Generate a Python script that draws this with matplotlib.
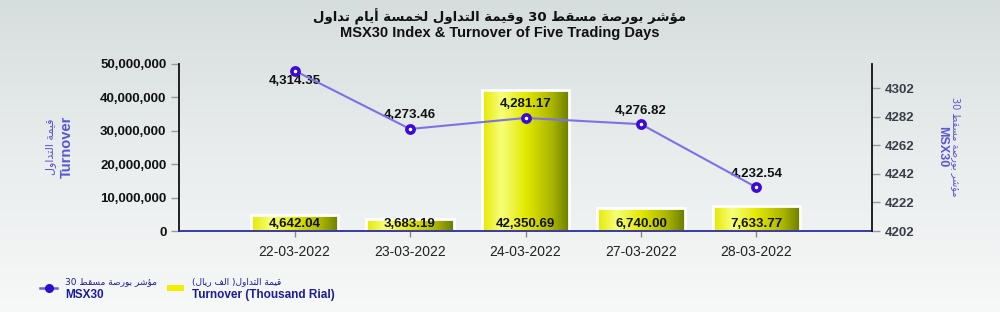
import re
import numpy as np
import matplotlib
matplotlib.use("Agg")
import matplotlib.pyplot as plt
from matplotlib.colors import LinearSegmentedColormap
from matplotlib.lines import Line2D
from matplotlib.patches import Rectangle
from matplotlib.ticker import FuncFormatter, FixedLocator

# ---------------- data ----------------
dates = ['22-03-2022', '23-03-2022', '24-03-2022', '27-03-2022', '28-03-2022']
turnover_thousand = [4642.04, 3683.19, 42350.69, 6740.00, 7633.77]
index_values = [4314.35, 4273.46, 4281.17, 4276.82, 4232.54]
left_ticks = [0, 10000000, 20000000, 30000000, 40000000, 50000000]
right_ticks = [4202, 4222, 4242, 4262, 4282, 4302]

title_ar = 'مؤشر بورصة مسقط 30 وقيمة التداول لخمسة أيام تداول'
title_en = 'MSX30 Index & Turnover of Five Trading Days'
left_label_ar = 'قيمة التداول'
left_label_en = 'Turnover'
right_label_ar = 'مؤشر بورصة مسقط 30'
right_label_en = 'MSX30'
legend_line_ar = 'مؤشر بورصة مسقط 30'
legend_line_en = 'MSX30'
legend_bar_ar = 'قيمة التداول( الف ريال)'
legend_bar_en = 'Turnover (Thousand Rial)'

# ---------------- minimal Arabic shaping (visual order) ----------------
FORMS = {
    'ا': (0xFE8D, 0xFE8E, None, None),
    'أ': (0xFE83, 0xFE84, None, None),
    'ب': (0xFE8F, 0xFE90, 0xFE91, 0xFE92),
    'ة': (0xFE93, 0xFE94, None, None),
    'ت': (0xFE95, 0xFE96, 0xFE97, 0xFE98),
    'خ': (0xFEA5, 0xFEA6, 0xFEA7, 0xFEA8),
    'د': (0xFEA9, 0xFEAA, None, None),
    'ر': (0xFEAD, 0xFEAE, None, None),
    'س': (0xFEB1, 0xFEB2, 0xFEB3, 0xFEB4),
    'ش': (0xFEB5, 0xFEB6, 0xFEB7, 0xFEB8),
    'ص': (0xFEB9, 0xFEBA, 0xFEBB, 0xFEBC),
    'ط': (0xFEC1, 0xFEC2, 0xFEC3, 0xFEC4),
    'ف': (0xFED1, 0xFED2, 0xFED3, 0xFED4),
    'ق': (0xFED5, 0xFED6, 0xFED7, 0xFED8),
    'ل': (0xFEDD, 0xFEDE, 0xFEDF, 0xFEE0),
    'م': (0xFEE1, 0xFEE2, 0xFEE3, 0xFEE4),
    'و': (0xFEED, 0xFEEE, None, None),
    'ؤ': (0xFE85, 0xFE86, None, None),
    'ي': (0xFEF1, 0xFEF2, 0xFEF3, 0xFEF4),
}


def shape(s):
    def dual(c):
        return c in FORMS and FORMS[c][2] is not None
    out = []
    n = len(s)
    for i, c in enumerate(s):
        if c not in FORMS:
            out.append(c)
            continue
        prev = s[i - 1] if i > 0 else ''
        nxt = s[i + 1] if i < n - 1 else ''
        jp = dual(prev)
        jn = dual(c) and nxt in FORMS
        iso, fin, ini, med = FORMS[c]
        if jp and jn:
            g = med
        elif jp:
            g = fin
        elif jn:
            g = ini
        else:
            g = iso
        out.append(chr(g))
    vis = ''.join(out)[::-1]
    vis = re.sub(r'[0-9]+', lambda m: m.group(0)[::-1], vis)
    vis = vis.translate(str.maketrans('()', ')('))
    return vis


AR = ['DejaVu Sans']
LAT = ['Liberation Sans', 'DejaVu Sans']
plt.rcParams['font.family'] = LAT

# ---------------- figure ----------------
fig = plt.figure(figsize=(10, 3.12), dpi=100)

# background gradient
bg = fig.add_axes([0, 0, 1, 1], zorder=-10)
bg.axis('off')
grad = np.linspace(0, 1, 256).reshape(-1, 1)
bg_cmap = LinearSegmentedColormap.from_list('bg', ['#d6dedd', '#e9eded', '#f7f8f8'])
bg.imshow(grad, aspect='auto', cmap=bg_cmap, extent=[0, 1, 0, 1], origin='upper')
bg.set_xlim(0, 1)
bg.set_ylim(0, 1)

ax = fig.add_axes([0.179, 0.2596, 0.693, 0.5354])
ax.patch.set_alpha(0)
x = np.arange(len(dates))
bar_heights = [v * 1000 for v in turnover_thousand]

bar_cmap = LinearSegmentedColormap.from_list(
    'bar', [(0, '#e4e800'), (0.22, '#f7ff7a'), (0.5, '#e2e800'), (0.8, '#aab400'), (1.0, '#6a7c00')])
bars = ax.bar(x, bar_heights, width=0.76, facecolor='none', edgecolor='white', linewidth=2, zorder=3)
hgrad = np.linspace(0, 1, 256).reshape(1, -1)
for b in bars:
    x0, y0 = b.get_x(), b.get_y()
    w, h = b.get_width(), b.get_height()
    im = ax.imshow(hgrad, aspect='auto', cmap=bar_cmap, extent=[x0, x0 + w, y0, y0 + h],
                   origin='lower', zorder=2)
    im.set_clip_path(b)

for xi, v in zip(x, turnover_thousand):
    ax.annotate(f'{v:,.2f}', xy=(xi, 0), xytext=(0, 1), textcoords='offset points',
                ha='center', va='bottom', fontsize=9.5, fontweight='bold', color='#111111', zorder=5)

ax.set_xlim(-1, 5)
ax.set_ylim(0, 50000000)
ax.yaxis.set_major_locator(FixedLocator(left_ticks))
ax.yaxis.set_major_formatter(FuncFormatter(lambda v, p: f'{int(v):,}'))
ax.set_xticks(x)
ax.set_xticklabels(dates)
ax.tick_params(axis='y', direction='out', length=6, width=1, color='#999999', pad=3,
               labelsize=9.5, labelcolor='#111111')
for t in ax.get_yticklabels():
    t.set_fontweight('bold')
ax.tick_params(axis='x', direction='out', length=4, width=1, color='#888888', pad=6,
               labelsize=10, labelcolor='#222222')
ax.spines['top'].set_visible(False)
ax.spines['right'].set_visible(False)
ax.spines['left'].set_color('#111111')
ax.spines['left'].set_linewidth(1.3)
ax.spines['bottom'].set_color('#2a2aa0')
ax.spines['bottom'].set_linewidth(1.3)
ax.spines['bottom'].set_zorder(6)

ax2 = ax.twinx()
ax2.set_ylim(4202, 4319)
ax2.yaxis.set_major_locator(FixedLocator(right_ticks))
ax2.plot(x, index_values, color='#7d70ea', linewidth=1.5, marker='o', markersize=5.2,
         markerfacecolor='white', markeredgecolor='#3c0ad8', markeredgewidth=2.6, zorder=4)
for i, (xi, v) in enumerate(zip(x, index_values)):
    if i == 0:
        ax2.annotate(f'{v:,.2f}', xy=(xi, v), xytext=(0, -3.5), textcoords='offset points',
                     ha='center', va='top', fontsize=9.5, fontweight='bold', color='#111111')
    else:
        ax2.annotate(f'{v:,.2f}', xy=(xi, v), xytext=(0, 5.5), textcoords='offset points',
                     ha='center', va='bottom', fontsize=9.5, fontweight='bold', color='#111111')
ax2.tick_params(axis='y', direction='out', length=6, width=1, color='#999999', pad=3,
                labelsize=9.5, labelcolor='#3a3f48')
for t in ax2.get_yticklabels():
    t.set_fontweight('bold')
for s in ['top', 'left', 'bottom']:
    ax2.spines[s].set_visible(False)
ax2.spines['right'].set_color('#111111')
ax2.spines['right'].set_linewidth(1.3)

# titles
fig.text(0.5, 0.945, shape(title_ar), ha='center', va='center', fontsize=9.5,
         fontweight='bold', family=AR, color='#111111')
fig.text(0.5, 0.893, title_en, ha='center', va='center', fontsize=10.5,
         fontweight='bold', color='#111111')

# axis labels
label_blue = '#5a55d2'
fig.text(0.051, 0.53, shape(left_label_ar), rotation=90, ha='center', va='center',
         fontsize=8, family=AR, color=label_blue)
fig.text(0.067, 0.53, left_label_en, rotation=90, ha='center', va='center',
         fontsize=10.5, fontweight='bold', color=label_blue)
fig.text(0.956, 0.53, shape(right_label_ar), rotation=270, ha='center', va='center',
         fontsize=7, family=AR, color=label_blue)
fig.text(0.942, 0.53, right_label_en, rotation=270, ha='center', va='center',
         fontsize=9, fontweight='bold', color=label_blue)

# legend
leg_blue = '#1c1c9a'
fig.add_artist(Line2D([0.040, 0.057], [0.077, 0.077], color='#6a5ce0', linewidth=1.8,
                      marker=None, transform=fig.transFigure))
fig.add_artist(Line2D([0.0485], [0.077], marker='o', markersize=5.5, markerfacecolor='#2a10c8',
                      markeredgecolor='#2a10c8', transform=fig.transFigure))
fig.text(0.065, 0.098, shape(legend_line_ar), ha='left', va='center', fontsize=6.5,
         family=AR, color=leg_blue)
fig.text(0.065, 0.055, legend_line_en, ha='left', va='center', fontsize=8.5,
         fontweight='bold', color=leg_blue)
fig.add_artist(Rectangle((0.167, 0.066), 0.017, 0.02, facecolor='#eef000', edgecolor='none',
                         transform=fig.transFigure))
fig.text(0.192, 0.098, shape(legend_bar_ar), ha='left', va='center', fontsize=6.5,
         family=AR, color=leg_blue)
fig.text(0.192, 0.055, legend_bar_en, ha='left', va='center', fontsize=8.5,
         fontweight='bold', color=leg_blue)

fig.savefig('out.png', dpi=100)
